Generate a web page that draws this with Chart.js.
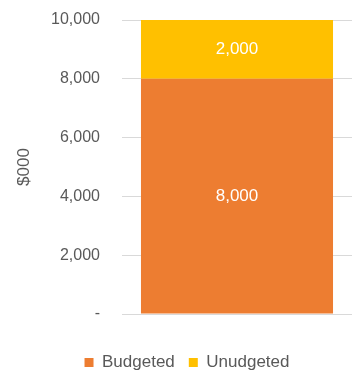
<!DOCTYPE html>
<html>
<head>
<meta charset="utf-8">
<script src="https://cdn.jsdelivr.net/npm/chart.js@4/dist/chart.umd.min.js"></script>
<style>
  html, body { margin: 0; padding: 0; background: #fff; }
  #wrap { width: 352px; height: 372px; }
</style>
</head>
<body>
<div id="wrap"><canvas id="chart"></canvas></div>
<script>
// values
var categories = [""];
var budgeted = [8000];
var unbudgeted = [2000];
var seriesNames = ["Budgeted", "Unudgeted"];
var seriesColors = ["#ed7d31", "#ffc000"];

var fontFamily = "'Liberation Sans', Arial, sans-serif";
var grey = "#595959";

// draws the value in the middle of each bar segment
var barLabels = {
    id: "barLabels",
    afterDatasetsDraw(chart) {
        const ctx = chart.ctx;
        ctx.save();
        ctx.fillStyle = "#ffffff";
        ctx.font = "17px " + fontFamily;
        ctx.textAlign = "center";
        ctx.textBaseline = "middle";
        chart.data.datasets.forEach((ds, i) => {
            chart.getDatasetMeta(i).data.forEach((bar, j) => {
                const mid = (bar.y + bar.base) / 2;
                ctx.fillText(ds.data[j].toLocaleString("en-US"), bar.x, mid);
            });
        });
        ctx.restore();
    }
};

// legend sits a bit right of the canvas centre in the original
var legendShift = {
    id: "legendShift",
    afterLayout(chart) {
        chart.legend.left += 11;
        chart.legend.right += 11;
    }
};

const ctx = document.getElementById("chart").getContext("2d");
const chart = new Chart(ctx, {
    type: "bar",
    data: {
        labels: categories,
        datasets: [
            { label: seriesNames[0], data: budgeted, backgroundColor: seriesColors[0] },
            { label: seriesNames[1], data: unbudgeted, backgroundColor: seriesColors[1] }
        ]
    },
    options: {
        responsive: true,
        maintainAspectRatio: false,
        animation: false,
        layout: { padding: { top: 20, right: 0, left: 0, bottom: -9 } },
        datasets: { bar: { categoryPercentage: 0.835, barPercentage: 1 } },
        scales: {
            x: {
                stacked: true,
                display: true,
                grid: { display: false, drawTicks: false },
                border: { display: false },
                ticks: { display: false },
                afterFit: function(axis) { axis.height = 26; }
            },
            y: {
                stacked: true,
                min: 0,
                max: 10000,
                ticks: {
                    stepSize: 2000,
                    padding: 4,
                    color: grey,
                    font: { size: 16, family: fontFamily },
                    callback: function(v) { return v === 0 ? "-" : v.toLocaleString("en-US"); }
                },
                grid: { color: "#d9d9d9", lineWidth: 1, drawTicks: true, tickLength: 18, tickColor: "rgba(0,0,0,0)" },
                border: { display: false },
                title: {
                    display: true,
                    text: "$000",
                    color: grey,
                    font: { size: 17, family: fontFamily },
                    padding: { top: 14, bottom: 0 }
                },
                afterFit: function(axis) { axis.width = 122; }
            }
        },
        plugins: {
            legend: {
                position: "bottom",
                labels: {
                    color: grey,
                    boxWidth: 9,
                    boxHeight: 9,
                    padding: 14,
                    font: { size: 17, family: fontFamily }
                }
            },
            tooltip: { enabled: false }
        }
    },
    plugins: [barLabels, legendShift]
});
</script>
</body>
</html>
